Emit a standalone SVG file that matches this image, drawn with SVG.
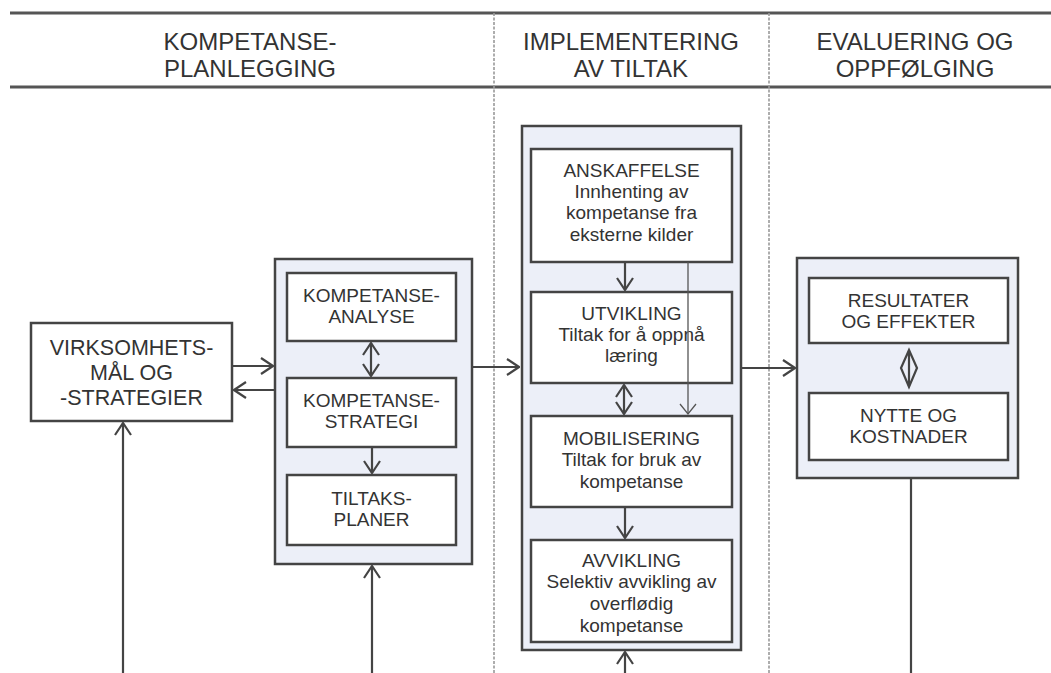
<svg xmlns="http://www.w3.org/2000/svg" width="1051" height="673" viewBox="0 0 1051 673">
<style>
text{font-family:"Liberation Sans",Arial,Helvetica,sans-serif;fill:#333;text-anchor:middle}
.h{font-size:24px}
.l{font-size:21.5px}
.t{font-size:19px}
.outer{fill:#eceff8;stroke:#444;stroke-width:2.5}
.inner{fill:#fff;stroke:#444;stroke-width:2.5}
.rule{stroke:#555;stroke-width:3}
.div{stroke:#999;stroke-width:1.6;stroke-dasharray:3 1.5}
.c{stroke:#444;stroke-width:2.2;fill:none}
.thin{stroke:#555;stroke-width:1.3;fill:none}
</style>
<defs>
<marker id="ah" viewBox="0 0 14 18" refX="13" refY="9" markerWidth="14" markerHeight="18" orient="auto-start-reverse" markerUnits="userSpaceOnUse">
<path d="M1,1 L13,9 L1,17" fill="none" stroke="#444" stroke-width="2.2"/>
</marker>
</defs>
<rect width="1051" height="673" fill="#fff"/>
<g id="header">
<line class="rule" x1="10" y1="13" x2="1051" y2="13"/>
<line class="rule" x1="10" y1="87" x2="1051" y2="87"/>
<line class="div" x1="494" y1="13" x2="494" y2="673"/>
<line class="div" x1="769" y1="13" x2="769" y2="673"/>
<text class="h" x="250" y="50">KOMPETANSE-</text>
<text class="h" x="250" y="77">PLANLEGGING</text>
<text class="h" x="631" y="50">IMPLEMENTERING</text>
<text class="h" x="631" y="77">AV TILTAK</text>
<text class="h" x="915" y="50">EVALUERING OG</text>
<text class="h" x="915" y="77">OPPFØLGING</text>
</g>
<g id="virksomhet">
<rect class="inner" x="31" y="323" width="201" height="98"/>
<text class="l" x="131.5" y="355">VIRKSOMHETS-</text>
<text class="l" x="131.5" y="380">MÅL OG</text>
<text class="l" x="131.5" y="405">-STRATEGIER</text>
</g>
<g id="kompetanseplanlegging">
<rect class="outer" x="275" y="259" width="197" height="305"/>
</g>
<g id="kompetanseanalyse">
<rect class="inner" x="287" y="273" width="169" height="68"/>
<text class="t" x="371.5" y="302">KOMPETANSE-</text>
<text class="t" x="371.5" y="323">ANALYSE</text>
</g>
<g id="kompetansestrategi">
<rect class="inner" x="287" y="378" width="169" height="69"/>
<text class="t" x="371.5" y="407">KOMPETANSE-</text>
<text class="t" x="371.5" y="428">STRATEGI</text>
</g>
<g id="tiltaksplaner">
<rect class="inner" x="287" y="475" width="169" height="70"/>
<text class="t" x="371.5" y="505">TILTAKS-</text>
<text class="t" x="371.5" y="526">PLANER</text>
</g>
<g id="implementering">
<rect class="outer" x="522" y="126" width="219" height="524"/>
</g>
<g id="anskaffelse">
<rect class="inner" x="531" y="149" width="201" height="113"/>
<text class="t" x="631.5" y="177">ANSKAFFELSE</text>
<text class="t" x="631.5" y="198">Innhenting av</text>
<text class="t" x="631.5" y="219">kompetanse fra</text>
<text class="t" x="631.5" y="241">eksterne kilder</text>
</g>
<g id="utvikling">
<rect class="inner" x="531" y="292" width="201" height="91"/>
<text class="t" x="631.5" y="320">UTVIKLING</text>
<text class="t" x="631.5" y="341">Tiltak for å oppnå</text>
<text class="t" x="631.5" y="362">læring</text>
</g>
<g id="mobilisering">
<rect class="inner" x="531" y="416" width="201" height="91"/>
<text class="t" x="631.5" y="445">MOBILISERING</text>
<text class="t" x="631.5" y="466">Tiltak for bruk av</text>
<text class="t" x="631.5" y="488">kompetanse</text>
</g>
<g id="avvikling">
<rect class="inner" x="531" y="540" width="201" height="102"/>
<text class="t" x="631.5" y="567">AVVIKLING</text>
<text class="t" x="631.5" y="588">Selektiv avvikling av</text>
<text class="t" x="631.5" y="610">overflødig</text>
<text class="t" x="631.5" y="632">kompetanse</text>
</g>
<g id="evaluering">
<rect class="outer" x="797" y="258" width="221" height="220"/>
</g>
<g id="resultater">
<rect class="inner" x="809" y="278" width="199" height="65"/>
<text class="t" x="908.5" y="307">RESULTATER</text>
<text class="t" x="908.5" y="328">OG EFFEKTER</text>
</g>
<g id="nytte">
<rect class="inner" x="809" y="393" width="199" height="67"/>
<text class="t" x="908.5" y="422">NYTTE OG</text>
<text class="t" x="908.5" y="443">KOSTNADER</text>
</g>
<g id="connectors">
<line class="c" x1="232" y1="366" x2="273" y2="366" marker-end="url(#ah)"/>
<line class="c" x1="275" y1="390" x2="234" y2="390" marker-end="url(#ah)"/>
<line class="c" x1="123" y1="673" x2="123" y2="423" marker-end="url(#ah)"/>
<line class="c" x1="372" y1="673" x2="372" y2="566" marker-end="url(#ah)"/>
<line class="c" x1="371" y1="343" x2="371" y2="376" marker-start="url(#ah)" marker-end="url(#ah)"/>
<line class="c" x1="372" y1="447" x2="372" y2="473" marker-end="url(#ah)"/>
<line class="c" x1="472" y1="367" x2="519" y2="367" marker-end="url(#ah)"/>
<line class="c" x1="625" y1="262" x2="625" y2="290" marker-end="url(#ah)"/>
<line class="c" x1="624" y1="385" x2="624" y2="414" marker-start="url(#ah)" marker-end="url(#ah)"/>
<line class="c" x1="625" y1="507" x2="625" y2="538" marker-end="url(#ah)"/>
<line class="thin" x1="688" y1="262" x2="688" y2="414"/>
<path class="thin" d="M680,404 L688,414 L696,404"/>
<line class="c" x1="625" y1="673" x2="625" y2="652" marker-end="url(#ah)"/>
<line class="c" x1="741" y1="368" x2="795" y2="368" marker-end="url(#ah)"/>
<path class="c" d="M909,350 L917,368 L909,387 L901,368 Z M909,350 L909,387"/>
<line class="c" x1="911" y1="478" x2="911" y2="673"/>
</g>
</svg>
